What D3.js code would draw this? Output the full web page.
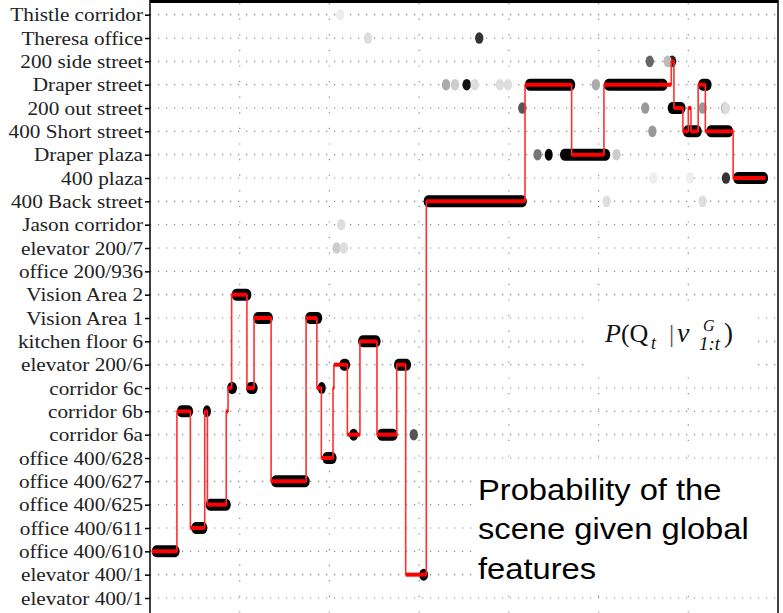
<!DOCTYPE html>
<html><head><meta charset="utf-8">
<script src="https://cdn.jsdelivr.net/npm/d3@7"></script>
<style>body{margin:0;background:#fff}</style>
</head><body><svg id="c" width="783" height="613"></svg>
<script>
// ---- data ----
const categories = ["Thistle corridor","Theresa office","200 side street","Draper street","200 out street",
  "400 Short street","Draper plaza","400 plaza","400 Back street","Jason corridor","elevator 200/7",
  "office 200/936","Vision Area 2","Vision Area 1","kitchen floor 6","elevator 200/6","corridor 6c",
  "corridor 6b","corridor 6a","office 400/628","office 400/627","office 400/625","office 400/611",
  "office 400/610","elevator 400/1","elevator 400/1"];
const xTicks = [100,200,300,400,500,600];
// MAP path: start time of each segment and category index of each segment
const pathStarts = [2,30,45,61,64,85,87,91,108,116,135,174,186,191,204,205,220,234,253,275,285,308,418,470,506,581,584,594,600,603,611,619,650];
const pathEnd = 686;
const pathStates = [23,17,22,17,21,17,16,12,16,13,20,13,16,19,16,15,18,14,18,15,24,8,3,6,3,2,4,5,4,5,3,5,7];
// high-probability runs [start, end, category]
const blackRuns = [[2,33,23],[30,48,17],[46,64,22],[59,66,17],[62,90,21],[86,97,16],[91,113,12],[107,120,16],
  [115,137,13],[135,178,20],[173,192,13],[187,194,16],[192,208,19],[211,223,15],[222,232,18],[232,257,14],
  [253,276,18],[272,291,15],[300,310,24],[305,420,8],[418,474,3],[440,448,6],[457,513,6],[506,577,3],
  [577,597,4],[594,615,5],[611,626,3],[620,650,5],[650,689,7]];
// lower-probability points [time, category, grey level]
const probDots = [[294,18,"#555"],[432,6,"#777"],[582,2,"#222"],[557,2,"#666"],[577,2,"#bbb"],[367,1,"#333"],
  [353,3,"#111"],[330,3,"#aaa"],[340,3,"#ccc"],[362,3,"#ddd"],[390,3,"#ddd"],[399,3,"#ddd"],[497,3,"#aaa"],
  [415,4,"#555"],[552,4,"#999"],[616,4,"#999"],[641,4,"#aaa"],[560,5,"#999"],[520,6,"#ccc"],[642,7,"#333"],
  [561,7,"#eee"],[602,7,"#eee"],[509,8,"#ddd"],[616,8,"#ddd"],[213,9,"#ddd"],[208,10,"#ccc"],[216,10,"#ddd"],
  [212,0,"#eee"],[243,1,"#ddd"],[642,4,"#ddd"]];

// ---- chart ----
const svg = d3.select("#c");
const x = d3.scaleLinear().domain([0,700]).range([150,778]);
const y = d3.scalePoint().domain(d3.range(categories.length)).range([14.7,598]);

// grid
svg.append("g").selectAll("line").data(y.domain()).join("line")
  .attr("x1",150).attr("x2",778).attr("y1",d=>y(d)).attr("y2",d=>y(d))
  .attr("stroke","#888").attr("stroke-width",1.2).attr("stroke-dasharray","1.2,6.8");
svg.append("g").selectAll("line").data(xTicks).join("line")
  .attr("x1",d=>x(d)).attr("x2",d=>x(d)).attr("y1",3).attr("y2",613)
  .attr("stroke","#888").attr("stroke-width",1.2).attr("stroke-dasharray","1.2,14.4");

// white boxes behind annotations
svg.append("rect").attr("x",585).attr("y",312).attr("width",168).attr("height",56).attr("fill","#fff");
svg.append("rect").attr("x",474).attr("y",466).attr("width",304).attr("height",122).attr("fill","#fff");

// probability dots
svg.append("g").selectAll("ellipse").data(probDots).join("ellipse")
  .attr("cx",d=>x(d[0])).attr("cy",d=>y(d[1])).attr("rx",4.2).attr("ry",5.8).attr("fill",d=>d[2]);

// black runs
svg.append("g").selectAll("rect").data(blackRuns).join("rect")
  .attr("x",d=>x(d[0])).attr("width",d=>Math.max(8,x(d[1])-x(d[0])))
  .attr("y",d=>y(d[2])-6).attr("height",12).attr("rx",4.5).attr("ry",6).attr("fill","#000");

// red MAP path
let p = `M${x(pathStarts[0])},${y(pathStates[0])}`;
pathStates.forEach((s,i)=>{
  const tEnd = i<pathStates.length-1 ? pathStarts[i+1] : pathEnd;
  p += `H${x(tEnd)}`;
  if(i<pathStates.length-1) p += `V${y(pathStates[i+1])}`;
});
svg.append("path").attr("d",p).attr("fill","none").attr("stroke","#ff3030").attr("stroke-width",1.6);
svg.append("g").selectAll("line").data(pathStates.map((s,i)=>[pathStarts[i], i<pathStates.length-1?pathStarts[i+1]:pathEnd, s])).join("line")
  .attr("x1",d=>x(d[0])).attr("x2",d=>x(d[1])).attr("y1",d=>y(d[2])).attr("y2",d=>y(d[2]))
  .attr("stroke","#ff0000").attr("stroke-width",4);

// axes / frame
const ya = d3.axisLeft(y).tickSize(5).tickPadding(2).tickFormat(i=>categories[i]);
const gy = svg.append("g").attr("transform","translate(150,0)").call(ya);
gy.select(".domain").remove();
gy.selectAll(".tick line").attr("stroke","#000").attr("stroke-width",1.5);
gy.selectAll(".tick text").attr("font-family","'Liberation Serif', serif").attr("font-size",19.5).attr("fill","#222")
  .attr("transform","translate(-7,0) scale(1.09,1) translate(7,0)");
svg.append("line").attr("x1",150).attr("x2",150).attr("y1",0).attr("y2",613).attr("stroke","#000").attr("stroke-width",1.5);
svg.append("line").attr("x1",778).attr("x2",778).attr("y1",0).attr("y2",613).attr("stroke","#000").attr("stroke-width",1.5);
svg.append("line").attr("x1",150).attr("x2",778).attr("y1",1.5).attr("y2",1.5).attr("stroke","#000").attr("stroke-width",3);

// formula label
const fg = svg.append("g").attr("font-family","'Liberation Serif', serif").attr("fill","#111");
fg.append("text").attr("x",605).attr("y",342).attr("font-size",26)
  .call(t=>{t.append("tspan").attr("font-style","italic").text("P"); t.append("tspan").text("(Q");});
fg.append("text").attr("x",651).attr("y",349).attr("font-size",18).attr("font-style","italic").text("t");
fg.append("text").attr("x",669).attr("y",342).attr("font-size",26).attr("fill","#555").text("|");
fg.append("text").attr("x",677).attr("y",342).attr("font-size",28).attr("font-style","italic").text("v");
fg.append("text").attr("x",703).attr("y",331).attr("font-size",16).attr("font-style","italic").text("G");
fg.append("text").attr("x",699).attr("y",350).attr("font-size",19).attr("font-style","italic").text("1:t");
fg.append("text").attr("x",724).attr("y",342).attr("font-size",27).text(")");

// annotation text
const a = svg.append("text").attr("font-family","'Liberation Sans', Arial, sans-serif").attr("font-size",30).attr("fill","#000")
  .attr("transform","translate(478,0) scale(1.09,1) translate(-478,0)");
["Probability of the","scene given global","features"].forEach((s,i)=>
  a.append("tspan").attr("x",478).attr("y",500+i*39.5).text(s));
</script></body></html>
